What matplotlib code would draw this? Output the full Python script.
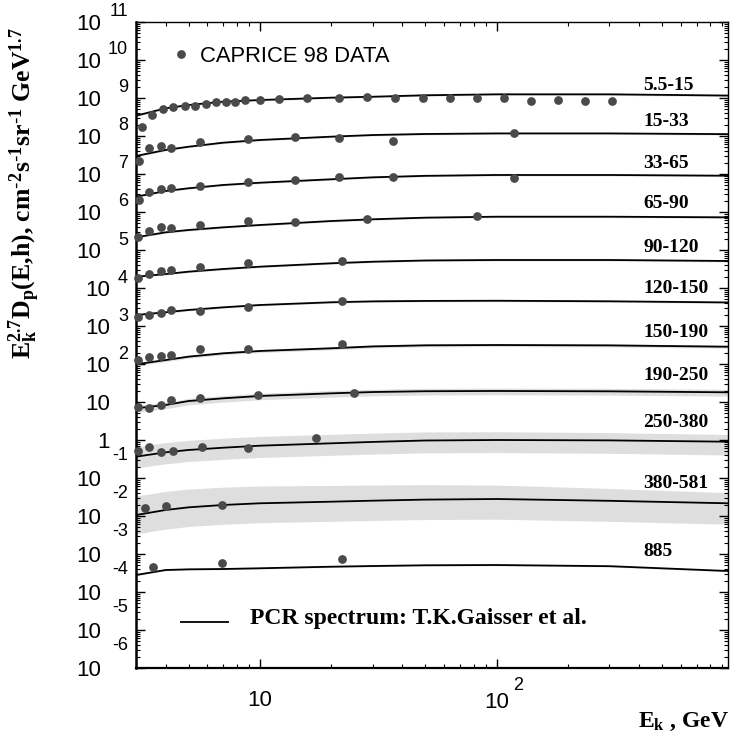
import numpy as np
import matplotlib
matplotlib.use("Agg")
import matplotlib.pyplot as plt
from matplotlib.transforms import offset_copy
from matplotlib.ticker import LogLocator, NullFormatter

plt.rcParams['mathtext.default'] = 'regular'

SERIF = 'Liberation Serif'
SANS = 'Liberation Sans'

# energy grid of the model curves, GeV
e_model = [3, 4, 5, 7, 10, 20, 30, 50, 100, 300, 950]

# PCR model curves, E^2.7 D_p, one per depth range
model_5_15 = [3.42e8, 5.36e8, 6.55e8, 8.0e8, 8.85e8, 1.02e9, 1.08e9, 1.18e9, 1.25e9, 1.25e9, 1.16e9]
model_15_33 = [2.98e7, 4.29e7, 5.22e7, 6.67e7, 7.85e7, 9.6e7, 1.06e8, 1.13e8, 1.17e8, 1.17e8, 1.12e8]
model_33_65 = [2.53e6, 3.57e6, 4.21e6, 5.14e6, 5.90e6, 7.26e6, 8.18e6, 8.95e6, 9.42e6, 9.42e6, 9.02e6]
model_65_90 = [2.16e5, 2.92e5, 3.36e5, 3.95e5, 4.55e5, 5.79e5, 6.43e5, 7.10e5, 7.52e5, 7.52e5, 7.24e5]
model_90_120 = [1.98e4, 2.33e4, 2.69e4, 3.16e4, 3.64e4, 4.47e4, 4.92e4, 5.30e4, 5.46e4, 5.46e4, 5.14e4]
model_120_150 = [1.95e3, 2.30e3, 2.64e3, 3.10e3, 3.57e3, 4.21e3, 4.45e3, 4.57e3, 4.62e3, 4.47e3, 4.17e3]
model_150_190 = [98.2, 127, 156, 191, 220, 259, 290, 310, 316, 309, 285]
model_190_250 = [6.82, 8.34, 10.6, 12.5, 14.4, 16.9, 18.3, 19.2, 19.5, 19.1, 18.0]
model_250_380 = [0.364, 0.474, 0.546, 0.627, 0.708, 0.818, 0.890, 0.97, 1.0, 0.977, 0.902]
model_380_581 = [0.0106, 0.0144, 0.0169, 0.0195, 0.0216, 0.0238, 0.0253, 0.0270, 0.0280, 0.0251, 0.0216]
model_885 = [2.80e-4, 3.79e-4, 3.95e-4, 4.03e-4, 4.21e-4, 4.63e-4, 4.83e-4, 5.05e-4, 5.13e-4, 4.78e-4, 3.57e-4]

# uncertainty band of each curve, dex above / below (low-E end, high-E end)
band_up = [(0.025, 0.025)] * 6 + [(0.04, 0.04), (0.07, 0.08), (0.26, 0.19), (0.50, 0.28), (0.02, 0.02)]
band_dn = [(0.025, 0.025)] * 6 + [(0.04, 0.04), (0.10, 0.10), (0.30, 0.35), (0.50, 0.55), (0.02, 0.02)]

# CAPRICE 98 measurements per depth range
e_5_15 = [3.18, 3.51, 3.89, 4.32, 4.81, 5.34, 5.90, 6.51, 7.18, 7.84, 8.64, 10.0, 12.0,
          15.8, 21.7, 28.5, 37.3, 48.9, 63.8, 83.0, 108, 140, 182, 237, 307]
d_5_15 = [1.76e8, 3.57e8, 5.14e8, 5.69e8, 6.05e8, 6.27e8, 6.95e8, 7.71e8, 8.0e8, 8.0e8, 8.85e8,
          8.85e8, 9.25e8, 9.82e8, 1.02e9, 1.04e9, 1.02e9, 9.8e8, 9.8e8, 9.8e8, 9.8e8, 8.5e8,
          8.85e8, 8.5e8, 8.25e8]
e_15_33 = [3.08, 3.42, 3.83, 4.23, 5.57, 8.92, 14.1, 21.7, 36.4, 118]
d_15_33 = [2.2e7, 4.74e7, 5.46e7, 4.74e7, 6.82e7, 8.34e7, 9.6e7, 8.69e7, 7.38e7, 1.22e8]
e_33_65 = [3.08, 3.42, 3.83, 4.23, 5.57, 8.92, 14.1, 21.7, 36.4, 118]
d_33_65 = [2.07e6, 3.30e6, 4.03e6, 4.21e6, 4.83e6, 6.27e6, 6.95e6, 8.18e6, 8.49e6, 7.71e6]
e_65_90 = [3.05, 3.42, 3.83, 4.23, 5.57, 8.92, 14.1, 28.5, 82.8]
d_65_90 = [2.16e5, 3.16e5, 4.10e5, 3.72e5, 4.55e5, 5.90e5, 5.56e5, 6.55e5, 7.85e5]
e_90_120 = [3.05, 3.42, 3.83, 4.23, 5.57, 8.92, 22.3]
d_90_120 = [1.80e4, 2.33e4, 2.80e4, 2.98e4, 3.64e4, 4.47e4, 5.22e4]
e_120_150 = [3.05, 3.42, 3.83, 4.23, 5.57, 8.92, 22.2]
d_120_150 = [1.76e3, 1.95e3, 2.16e3, 2.64e3, 2.48e3, 3.22e3, 4.55e3]
e_150_190 = [3.05, 3.42, 3.83, 4.23, 5.57, 8.92, 22.2]
d_150_190 = [127, 156, 165, 173, 248, 248, 336]
e_190_250 = [3.05, 3.42, 3.83, 4.23, 5.57, 9.83, 25.0]
d_190_250 = [7.52, 6.82, 8.34, 11.3, 12.5, 15.3, 17.6]
e_250_380 = [3.05, 3.42, 3.83, 4.29, 5.71, 8.92, 17.2]
d_250_380 = [0.514, 0.667, 0.474, 0.514, 0.667, 0.627, 1.11]
e_380_581 = [3.26, 4.02, 6.95]
d_380_581 = [0.0165, 0.0187, 0.0195]
e_885 = [3.53, 6.95, 22.2]
d_885 = [4.63e-4, 5.69e-4, 7.38e-4]

depth_labels = ["5.5-15", "15-33", "33-65", "65-90", "90-120", "120-150",
                "150-190", "190-250", "250-380", "380-581", "885"]
models = [model_5_15, model_15_33, model_33_65, model_65_90, model_90_120, model_120_150,
          model_150_190, model_190_250, model_250_380, model_380_581, model_885]
data_e = [e_5_15, e_15_33, e_33_65, e_65_90, e_90_120, e_120_150,
          e_150_190, e_190_250, e_250_380, e_380_581, e_885]
data_d = [d_5_15, d_15_33, d_33_65, d_65_90, d_90_120, d_120_150,
          d_150_190, d_190_250, d_250_380, d_380_581, d_885]

W, H, DPI = 732, 747, 100
fig = plt.figure(figsize=(W / DPI, H / DPI), dpi=DPI)
L, R, T, B = 136, 728, 22, 668
ax = fig.add_axes([L / W, 1 - B / H, (R - L) / W, (B - T) / H])
ax.set_xscale('log')
ax.set_yscale('log')
ax.set_xlim(3, 950)
ax.set_ylim(1e-6, 1e11)

dot_color = '#4a4a4a'
band_color = '#dedede'

le = np.log10(e_model)
frac = (le - le[0]) / (le[-1] - le[0])
for m, up, dn in zip(models, band_up, band_dn):
    lm = np.log10(m)
    hi = lm + up[0] + (up[1] - up[0]) * frac
    lo = lm - (dn[0] + (dn[1] - dn[0]) * frac)
    ax.fill_between(e_model, 10 ** lo, 10 ** hi, color=band_color, lw=0, zorder=1)

for m in models:
    ax.plot(e_model, m, color='black', lw=1.3, zorder=3)

for ex, dx in zip(data_e, data_d):
    ax.plot(ex, dx, 'o', ms=6.3, color=dot_color, mec='none', zorder=4, clip_on=False)

# depth range labels above the curves
label_e = 416
label_off = [9, 12, 12, 13, 13, 13, 13, 16, 18, 18, 16]
for m, txt, off in zip(models, depth_labels, label_off):
    yv = 10 ** np.interp(np.log10(label_e), le, np.log10(m))
    ax.annotate(txt, (label_e, yv), xytext=(0, off), textcoords='offset pixels',
                ha='left', va='center', fontsize=14, fontweight='bold', family=SERIF)

# frame and ticks
ax.spines['left'].set_linewidth(1.8)
ax.spines['bottom'].set_linewidth(1.6)
ax.spines['top'].set_linewidth(1.0)
ax.spines['right'].set_linewidth(1.0)
ax.yaxis.set_major_locator(LogLocator(base=10, numticks=30))
ax.yaxis.set_minor_locator(LogLocator(base=10, subs=np.arange(2, 10), numticks=30))
ax.xaxis.set_major_locator(LogLocator(base=10, numticks=10))
ax.xaxis.set_minor_locator(LogLocator(base=10, subs=np.arange(2, 10), numticks=10))
for axis in (ax.xaxis, ax.yaxis):
    axis.set_major_formatter(NullFormatter())
    axis.set_minor_formatter(NullFormatter())
ax.tick_params(which='both', direction='in', top=True, right=True, color='black')
ax.tick_params(which='major', length=6.5, width=1.0)
ax.tick_params(which='minor', length=3.2, width=0.8)

# y tick labels: "10" with raised exponent
ytr = ax.get_yaxis_transform()
for k in range(-6, 12):
    v = 10.0 ** k
    if k == 0:
        base, bx = "1", -26
    elif 1 <= k <= 4:
        base, bx = "10", -26
    else:
        base, bx = "10", -35
    ax.text(0, v, base, transform=offset_copy(ytr, fig=fig, x=bx, y=-2, units='dots'),
            ha='right', va='center', fontsize=16, family=SANS)
    if k >= 2 or k < 0:
        ey = 10 if k > 0 else 23
        ax.text(0, v, str(k), transform=offset_copy(ytr, fig=fig, x=-8, y=ey, units='dots'),
                ha='right', va='center', fontsize=13, family=SANS)

# x tick labels
xtr = ax.get_xaxis_transform()
ax.text(10, 0, "10", transform=offset_copy(xtr, fig=fig, x=0, y=-32, units='dots'),
        ha='center', va='center', fontsize=16, family=SANS)
ax.text(100, 0, "10", transform=offset_copy(xtr, fig=fig, x=0, y=-35, units='dots'),
        ha='center', va='center', fontsize=16, family=SANS)
ax.text(100, 0, "2", transform=offset_copy(xtr, fig=fig, x=22, y=-18, units='dots'),
        ha='center', va='center', fontsize=13, family=SANS)

# legend entries
ax.plot([0.076], [0.9505], 'o', ms=6.3, color=dot_color, mec='none', transform=ax.transAxes)
ax.text(0.108, 0.946, "CAPRICE 98 DATA", transform=ax.transAxes, ha='left', va='center',
        fontsize=15.8, family=SANS)
ax.plot([0.076, 0.1554], [0.0717, 0.0717], color='black', lw=1.3, transform=ax.transAxes)
ax.text(0.1926, 0.0759, "PCR spectrum: T.K.Gaisser et al.", transform=ax.transAxes,
        ha='left', va='center', fontsize=17, fontweight='bold', family=SERIF)

# axis titles
fig.text(25 / W, 1 - 193 / H,
         r"$E_k^{2.7}D_p$(E,h), cm$^{\text{-}2}$s$^{\text{-}1}$sr$^{\text{-}1}$ GeV$^{1.7}$",
         rotation=90, ha='center', va='center', fontsize=18.5, fontweight='bold', family=SERIF)
fig.text(729 / W, 1 - 722 / H, r"$E_k$ , GeV", ha='right', va='center',
         fontsize=17, fontweight='bold', family=SERIF)

fig.savefig('out.png', dpi=DPI, facecolor='white')
